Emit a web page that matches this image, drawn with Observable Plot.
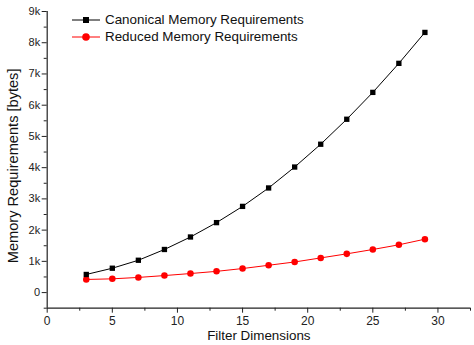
<!DOCTYPE html>
<html>
<head>
<meta charset="utf-8">
<script src="https://cdn.jsdelivr.net/npm/d3@7"></script>
<script src="https://cdn.jsdelivr.net/npm/@observablehq/plot@0.6"></script>
<style>
  html, body { margin: 0; padding: 0; background: #fff; }
  #wrap { position: relative; width: 474px; height: 345px; font-family: "Liberation Sans", Arial, sans-serif; }
  #legend { position: absolute; left: 72px; top: 11px; font-size: 13.4px; color: #111; }
  .row { display: flex; align-items: center; height: 17px; }
  .row svg { margin-right: 5px; }
</style>
</head>
<body>
<div id="wrap"><div id="legend"></div></div>
<script>
const filterDims = [3, 5, 7, 9, 11, 13, 15, 17, 19, 21, 23, 25, 27, 29];
const canonical = [580, 780, 1035, 1380, 1780, 2240, 2760, 3350, 4020, 4750, 5550, 6410, 7340, 8330];
const reduced   = [420, 440, 485, 545, 610, 680, 770, 875, 980, 1110, 1240, 1380, 1530, 1710];
const seriesNames = ["Canonical Memory Requirements", "Reduced Memory Requirements"];
const seriesColors = ["#000000", "#ff0000"];
const seriesSymbols = ["square", "circle"];
const xMajorTicks = [0, 5, 10, 15, 20, 25, 30];
const xMinorTicks = [2.5, 7.5, 12.5, 17.5, 22.5, 27.5, 32.5];
const yMajorTicks = [0, 1000, 2000, 3000, 4000, 5000, 6000, 7000, 8000, 9000];
const yMinorTicks = [-500, 500, 1500, 2500, 3500, 4500, 5500, 6500, 7500, 8500];
const xLabel = "Filter Dimensions";
const yLabel = "Memory Requirements [bytes]";

const data = [];
filterDims.forEach((x, i) => {
  data.push({x, y: canonical[i], s: seriesNames[0]});
  data.push({x, y: reduced[i], s: seriesNames[1]});
});

const yFmt = d => d === 0 ? "0" : (d / 1000) + "k";

const chart = Plot.plot({
  width: 474,
  height: 345,
  marginLeft: 46.7,
  marginRight: 4,
  marginTop: 11,
  marginBottom: 37.3,
  style: {fontFamily: "'Liberation Sans', Arial, sans-serif", fontSize: "11px", color: "#222", background: "#fff"},
  x: {domain: [0, 32.5]},
  y: {domain: [-500, 9000]},
  color: {domain: seriesNames, range: seriesColors},
  symbol: {domain: seriesNames, range: seriesSymbols},
  marks: [
    Plot.axisX({ticks: xMinorTicks, tickSize: 3, text: null, label: null, stroke: "#222"}),
    Plot.axisX({ticks: xMajorTicks, tickSize: 5, tickPadding: 3, stroke: "#222", fontSize: 12, label: null}),
    Plot.axisY({ticks: yMinorTicks, tickSize: 3, text: null, label: null, stroke: "#222"}),
    Plot.axisY({ticks: yMajorTicks, tickSize: 5, tickPadding: 2, tickFormat: yFmt, stroke: "#222", fontSize: 11, label: null}),
    Plot.text([xLabel], {frameAnchor: "bottom", lineAnchor: "middle", textAnchor: "middle", dy: 27.5, fontSize: 13.4, fill: "#111"}),
    Plot.text([yLabel], {frameAnchor: "left", lineAnchor: "middle", textAnchor: "middle", rotate: -90, dx: -34, dy: 6, fontSize: 14.6, fill: "#111"}),
    Plot.ruleY([-500], {stroke: "#222", strokeWidth: 1.2}),
    Plot.ruleX([0], {stroke: "#222", strokeWidth: 1.2}),
    Plot.line(data, {x: "x", y: "y", z: "s", stroke: "s", strokeWidth: 1}),
    Plot.dot(data, {x: "x", y: "y", symbol: "s", fill: "s", stroke: null, r: d => d.s === seriesNames[0] ? 3.2 : 3.8})
  ]
});

document.getElementById("wrap").appendChild(chart);

// legend
const legend = document.getElementById("legend");
seriesNames.forEach((name, i) => {
  const row = document.createElement("div");
  row.className = "row";
  const sym = seriesSymbols[i] === "square"
    ? `<rect x="11" y="5" width="6" height="6" fill="${seriesColors[i]}"/>`
    : `<circle cx="14" cy="8" r="3.8" fill="${seriesColors[i]}"/>`;
  row.innerHTML = `<svg width="28" height="16"><line x1="0" x2="28" y1="8" y2="8" stroke="${seriesColors[i]}" stroke-width="1"/>${sym}</svg><span>${name}</span>`;
  legend.appendChild(row);
});
</script>
</body>
</html>
